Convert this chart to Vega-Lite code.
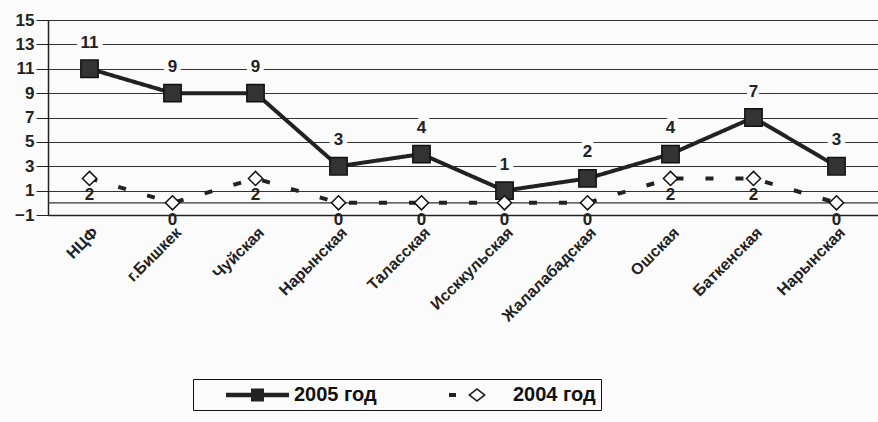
{
  "$schema": "https://vega.github.io/schema/vega-lite/v6.json",
  "width": 830,
  "height": 195,
  "autosize": {"type": "none"},
  "padding": {"left": 48, "top": 20, "right": 0, "bottom": 207},
  "background": "#fbfbfb",
  "config": {
    "font": "Liberation Sans",
    "view": {"stroke": null},
    "axis": {"labelFont": "Liberation Sans", "labelFontWeight": "bold", "labelColor": "#222", "domainColor": "#222", "tickColor": "#222"}
  },
  "data": {
    "values": [
      {"region": "НЦФ", "series": "2005 год", "value": 11},
      {"region": "г.Бишкек", "series": "2005 год", "value": 9},
      {"region": "Чуйская", "series": "2005 год", "value": 9},
      {"region": "Нарынская", "series": "2005 год", "value": 3},
      {"region": "Таласская", "series": "2005 год", "value": 4},
      {"region": "Иссккульская", "series": "2005 год", "value": 1},
      {"region": "Жалалабадская", "series": "2005 год", "value": 2},
      {"region": "Ошская", "series": "2005 год", "value": 4},
      {"region": "Баткенская", "series": "2005 год", "value": 7},
      {"region": "Нарынская ", "series": "2005 год", "value": 3},
      {"region": "НЦФ", "series": "2004 год", "value": 2},
      {"region": "г.Бишкек", "series": "2004 год", "value": 0},
      {"region": "Чуйская", "series": "2004 год", "value": 2},
      {"region": "Нарынская", "series": "2004 год", "value": 0},
      {"region": "Таласская", "series": "2004 год", "value": 0},
      {"region": "Иссккульская", "series": "2004 год", "value": 0},
      {"region": "Жалалабадская", "series": "2004 год", "value": 0},
      {"region": "Ошская", "series": "2004 год", "value": 2},
      {"region": "Баткенская", "series": "2004 год", "value": 2},
      {"region": "Нарынская ", "series": "2004 год", "value": 0}
    ]
  },
  "encoding": {
    "x": {
      "field": "region", "type": "nominal", "sort": null,
      "scale": {"type": "point", "padding": 0.5},
      "axis": {"title": null, "labelAngle": -45, "labelFontSize": 16, "labelPadding": 9, "ticks": false, "domainWidth": 1.5}
    },
    "y": {
      "field": "value", "type": "quantitative",
      "scale": {"domain": [-1, 15], "nice": false, "zero": false},
      "axis": {"title": null, "values": [-1, 1, 3, 5, 7, 9, 11, 13, 15], "labelFontSize": 17, "tickSize": 12, "labelPadding": 2, "domainWidth": 1.5, "gridColor": "#333", "gridWidth": 1.2, "gridOpacity": 1}
    }
  },
  "layer": [
    {
      "mark": {"type": "rule", "color": "#333", "strokeWidth": 1.2},
      "data": {"values": [{"z": 0}]},
      "encoding": {"y": {"field": "z", "type": "quantitative"}, "x": {}}
    },
    {
      "transform": [{"filter": "datum.series === '2005 год'"}],
      "mark": {"type": "text", "dy": -26, "fontSize": 17, "fontWeight": "bold", "color": "#fbfbfb", "stroke": "#fbfbfb", "strokeWidth": 9},
      "encoding": {"text": {"field": "value", "type": "quantitative"}}
    },
    {
      "mark": {"type": "line", "color": "#222", "strokeWidth": 4},
      "encoding": {
        "detail": {"field": "series", "type": "nominal"},
        "strokeDash": {"condition": {"test": "datum.series === '2004 год'", "value": [8, 22]}, "value": [1, 0]}
      }
    },
    {
      "mark": {"type": "point", "stroke": "#111", "strokeWidth": 1.5, "opacity": 1, "filled": false},
      "encoding": {
        "shape": {"condition": {"test": "datum.series === '2005 год'", "value": "square"}, "value": "diamond"},
        "fill": {"condition": {"test": "datum.series === '2005 год'", "value": "#333"}, "value": "#ffffff"},
        "size": {"condition": {"test": "datum.series === '2005 год'", "value": 300}, "value": 200}
      }
    },
    {
      "transform": [{"filter": "false"}],
      "mark": {"type": "point", "opacity": 1, "filled": true, "color": "#222"},
      "encoding": {
        "shape": {"field": "series", "type": "nominal",
          "scale": {"domain": ["2005 год", "2004 год"], "range": [
            "M1.7,-0.22L4.2,-0.22L4.2,-0.65L5.5,-0.65L5.5,-0.22L8,-0.22L8,0.22L5.5,0.22L5.5,0.65L4.2,0.65L4.2,0.22L1.7,0.22Z",
            "M2.1,-0.2L2.8,-0.2L2.8,0.2L2.1,0.2Z M4.9,-0.7L5.8,0L4.9,0.7L4,0Z M4.9,-0.5L4.27,0L4.9,0.5L5.53,0Z"
          ]},
          "legend": {
            "title": null, "orient": "none", "legendX": 145, "legendY": 359, "direction": "horizontal",
            "strokeColor": "#111", "padding": 5, "labelFontSize": 20, "labelFontWeight": "bold", "labelColor": "#111",
            "columnPadding": 40, "symbolSize": 400, "labelOffset": 74, "labelLimit": 300,
            "symbolFillColor": "#222", "symbolOpacity": 1,
            "labelExpr": "datum.label === '2004 год' ? datum.label + '\u00a0\u00a0\u00a0\u00a0\u00a0\u00a0' : datum.label"
          }}
      }
    },
    {
      "transform": [{"filter": "datum.series === '2005 год'"}],
      "mark": {"type": "text", "dy": -26, "fontSize": 17, "fontWeight": "bold", "color": "#222"},
      "encoding": {"text": {"field": "value", "type": "quantitative"}}
    },
    {
      "transform": [{"filter": "datum.series === '2004 год'"}],
      "mark": {"type": "text", "dy": 17, "fontSize": 17, "fontWeight": "bold", "color": "#222"},
      "encoding": {"text": {"field": "value", "type": "quantitative"}}
    }
  ]
}
